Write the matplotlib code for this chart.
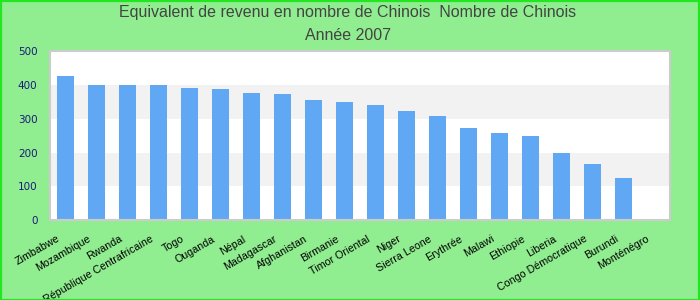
import numpy as np
import matplotlib
matplotlib.use("Agg")
import matplotlib.pyplot as plt
from matplotlib.patches import Rectangle

countries = [
    "Zimbabwe", "Mozambique", "Rwanda", "République Centrafricaine", "Togo",
    "Ouganda", "Népal", "Madagascar", "Afghanistan", "Birmanie",
    "Timor Oriental", "Niger", "Sierra Leone", "Erythrée", "Malawi",
    "Ethiopie", "Liberia", "Congo Démocratique", "Burundi", "Monténégro",
]
chinese_equivalent = [
    427, 400, 400, 400, 391,
    388, 376, 373, 356, 350,
    341, 323, 308, 273, 258,
    249, 199, 166, 124, 0,
]
y_ticks = [0, 100, 200, 300, 400, 500]
title_lines = ["Equivalent de revenu en nombre de Chinois  Nombre de Chinois",
               "Année 2007"]

W, H, DPI = 700, 300, 100
fig = plt.figure(figsize=(W / DPI, H / DPI), dpi=DPI)
fig.patch.set_facecolor("#90ee90")

left, right, top, bottom = 50, 670, 51.3, 220
ax = fig.add_axes([left / W, 1 - bottom / H, (right - left) / W, (bottom - top) / H])
ax.set_facecolor("white")

# alternating horizontal bands
for lo, hi in [(100, 200), (300, 400)]:
    ax.axhspan(lo, hi, color="#f2f2f2", zorder=0, lw=0)

x = np.arange(len(countries))
ax.bar(x, chinese_equivalent, width=0.55, color="#61a8f4", zorder=2)

ax.set_xlim(-0.5, len(countries) - 0.5)
ax.set_ylim(0, 500)
ax.set_yticks(y_ticks)
ax.set_yticklabels([str(v) for v in y_ticks], color="#1a1a7a",
                   fontsize=7.5, family="DejaVu Sans")
ax.tick_params(axis="y", length=0, pad=9)

# country names, rotated and anchored slightly left of each bar
ax.set_xticks(x - 0.2)
ax.set_xticklabels(countries, rotation=30, ha="right", va="center",
                   rotation_mode="anchor", fontsize=7.7,
                   family="Liberation Sans", color="black")
ax.tick_params(axis="x", length=0, pad=13)

for s in ax.spines.values():
    s.set_color("#cccccc")
    s.set_linewidth(1.5)

fig.text(0.497, 1 - 13 / H, title_lines[0], ha="center", va="center",
         fontsize=11.5, family="Liberation Sans", color="#444444")
fig.text(0.497, 1 - 36 / H, title_lines[1], ha="center", va="center",
         fontsize=11.5, family="Liberation Sans", color="#444444")

# green outline around the whole figure
fig.patches.append(Rectangle((0.5 / W, 0.5 / H), 1 - 1.5 / W, 1 - 1.5 / H,
                             transform=fig.transFigure, fill=False,
                             edgecolor="#22e622", linewidth=1.6, zorder=10))

fig.savefig("out.png", dpi=DPI, facecolor=fig.get_facecolor())
